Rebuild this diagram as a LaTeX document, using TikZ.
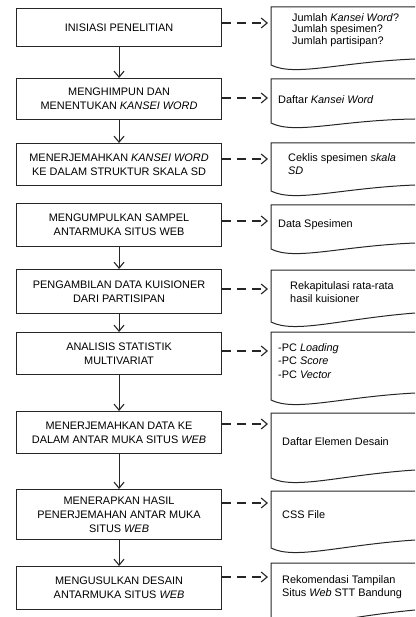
\documentclass[tikz,border=0pt]{standalone}
\usepackage{fontspec}
\setmainfont{Liberation Sans}
\usetikzlibrary{arrows.meta}
\begin{document}
\begin{tikzpicture}[x=1pt,y=-1pt,
  box/.style={draw=black!85, line width=1.1pt, minimum width=205pt, align=center,
    inner sep=0pt, anchor=north west, font=\fontsize{10.9}{14}\selectfont},
  doctext/.style={align=left, inner sep=0pt, anchor=west, font=\fontsize{10.9}{12.8}\selectfont},
  docline/.style={draw=black!85, line width=1.0pt},
  flowarr/.style={draw=black!85, line width=1.1pt, -{Straight Barb[length=6pt,width=10pt,line width=1.1pt]}},
  dasharr/.style={draw=black!85, line width=1.1pt, dash pattern=on 9pt off 6pt, shorten >=3pt,
    -{Straight Barb[length=6pt,width=10pt,line width=1.1pt]}}]
\useasboundingbox (0,0) rectangle (415,617);

% process boxes
\node[box, minimum height=38pt] (b1) at (16,8) {INISIASI PENELITIAN};
\node[box, minimum height=41pt] (b2) at (16,78) {MENGHIMPUN DAN\\MENENTUKAN \textit{KANSEI WORD}};
\node[box, minimum height=42pt] (b3) at (16,143) {MENERJEMAHKAN \textit{KANSEI WORD}\\KE DALAM STRUKTUR SKALA SD};
\node[box, minimum height=43pt] (b4) at (16,203) {MENGUMPULKAN SAMPEL\\ANTARMUKA SITUS WEB};
\node[box, minimum height=44pt] (b5) at (16,269) {PENGAMBILAN DATA KUISIONER\\DARI PARTISIPAN};
\node[box, minimum height=42pt] (b6) at (16,332) {ANALISIS STATISTIK\\MULTIVARIAT};
\node[box, minimum height=42pt] (b7) at (16,411) {MENERJEMAHKAN DATA KE\\DALAM ANTAR MUKA SITUS \textit{WEB}};
\node[box, minimum height=50pt] (b8) at (16,489) {MENERAPKAN HASIL\\PENERJEMAHAN ANTAR MUKA\\SITUS \textit{WEB}};
\node[box, minimum height=43pt] (b9) at (16,566) {MENGUSULKAN DESAIN\\ANTARMUKA SITUS \textit{WEB}};

% document shapes
\newcommand{\docshape}[4]{%
  \coordinate (#1) at (271,#2);
  \draw[docline] (415,#2) -- (271,#2) -- (271,#3)
    .. controls (295,{#3+12}) and (340,{#3-3}) .. (415,#4);}
\docshape{d1}{7}{65}{59}
\docshape{d2}{79}{123}{119}
\docshape{d3}{143}{191}{185}
\docshape{d4}{205}{249}{243}
\docshape{d5}{270}{322}{313}
\docshape{d6}{332}{400}{393}
\docshape{d7}{413}{478}{470}
\docshape{d8}{491}{548}{540}
\docshape{d9}{563}{620}{610}

% document texts
\node[doctext, font=\fontsize{10.9}{11.6}\selectfont] (t1) at (292,30) {Jumlah \textit{Kansei Word}?\\Jumlah spesimen?\\Jumlah partisipan?};
\node[doctext] (t2) at (278,100) {Daftar \textit{Kansei Word}};
\node[doctext] (t3) at (288,164) {Ceklis spesimen \textit{skala}\\\textit{SD}};
\node[doctext] (t4) at (278,225) {Data Spesimen};
\node[doctext] (t5) at (290,292) {Rekapitulasi rata-rata\\hasil kuisioner};
\node[doctext, font=\fontsize{10.9}{13.5}\selectfont] (t6) at (278,361) {-PC \textit{Loading}\\-PC \textit{Score}\\-PC \textit{Vector}};
\node[doctext] (t7) at (282,442) {Daftar Elemen Desain};
\node[doctext] (t8) at (282,515) {CSS File};
\node[doctext] (t9) at (282,587.5) {Rekomendasi Tampilan\\Situs \textit{Web} STT Bandung};

% flow arrows
\draw[flowarr] (b1.south) -- (b2.north);
\draw[flowarr] (b2.south) -- (b3.north);
\draw[flowarr] (b4.south) -- (b5.north);
\draw[flowarr] (b5.south) -- (b6.north);
\draw[flowarr] (b6.south) -- (b7.north);
\draw[flowarr] (b7.south) -- (b8.north);
\draw[flowarr] (b8.south) -- (b9.north);

% dashed output arrows
\draw[dasharr] (b1.east |- 0,23) -- (d1 |- 0,23);
\draw[dasharr] (b2.east |- 0,98) -- (d2 |- 0,98);
\draw[dasharr] (b3.east |- 0,159) -- (d3 |- 0,159);
\draw[dasharr] (b4.east |- 0,221) -- (d4 |- 0,221);
\draw[dasharr] (b5.east |- 0,289) -- (d5 |- 0,289);
\draw[dasharr] (b6.east |- 0,351) -- (d6 |- 0,351);
\draw[dasharr] (b7.east |- 0,424) -- (d7 |- 0,424);
\draw[dasharr] (b8.east |- 0,503) -- (d8 |- 0,503);
\draw[dasharr] (b9.east |- 0,577) -- (d9 |- 0,577);
\end{tikzpicture}
\end{document}
